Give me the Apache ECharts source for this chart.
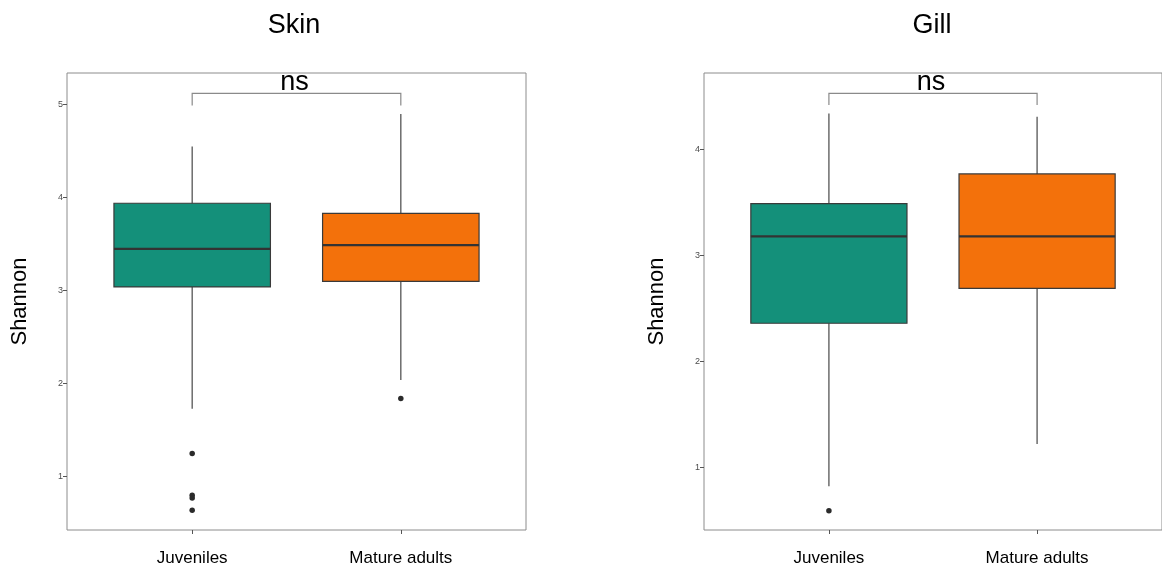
<!DOCTYPE html>
<html>
<head>
<meta charset="utf-8">
<script src="https://cdn.jsdelivr.net/npm/echarts@6/dist/echarts.min.js"></script>
<style>
  html, body { margin: 0; padding: 0; background: #fff; }
  #chart { width: 1162px; height: 568px; }
</style>
</head>
<body>
<div id="chart"></div>
<script>
// Groups on the x axis (positions 1 and 2)
const categories = ['Juveniles', 'Mature adults'];
const panelTitles = ['Skin', 'Gill'];

// Box statistics per group: [lower whisker, Q1, median, Q3, upper whisker]
const skinBoxes = [
  [1.73, 3.04, 3.45, 3.94, 4.55],
  [2.04, 3.10, 3.49, 3.83, 4.90]
];
const gillBoxes = [
  [0.82, 2.36, 3.18, 3.49, 4.34],
  [1.22, 2.69, 3.18, 3.77, 4.31]
];

// Outliers: [group position, Shannon value]
const skinOutliers = [[1, 1.25], [1, 0.80], [1, 0.77], [1, 0.64], [2, 1.84]];
const gillOutliers = [[1, 0.59]];

// Significance brackets: [from group, to group, bar height, leg end], label
const skinBracket = [1, 2, 5.12, 4.99];
const gillBracket = [1, 2, 4.53, 4.42];
const bracketLabel = 'ns';

// Y tick values and axis ranges
const skinTicks = [1, 2, 3, 4, 5];
const gillTicks = [1, 2, 3, 4];
const skinRange = [0.427, 5.34];
const gillRange = [0.408, 4.723];

const boxColors = ['#14907a', '#f3710b'];
const FONT = '"Liberation Sans", Arial, Helvetica, sans-serif';

function boxRender(params, api) {
  const x = api.value(0);
  const low = api.coord([x, api.value(1)]);
  const q1 = api.coord([x, api.value(2)]);
  const med = api.coord([x, api.value(3)]);
  const q3 = api.coord([x, api.value(4)]);
  const high = api.coord([x, api.value(5)]);
  const half = api.size([0.75, 0])[0] / 2;
  const cx = med[0];
  const lineStyle = { stroke: '#555555', lineWidth: 1.3 };
  return {
    type: 'group',
    children: [
      { type: 'line', shape: { x1: cx, y1: q1[1], x2: cx, y2: low[1] }, style: lineStyle },
      { type: 'line', shape: { x1: cx, y1: q3[1], x2: cx, y2: high[1] }, style: lineStyle },
      {
        type: 'rect',
        shape: { x: cx - half, y: q3[1], width: half * 2, height: q1[1] - q3[1] },
        style: { fill: boxColors[params.dataIndex], stroke: '#3a3a3a', lineWidth: 1.2 }
      },
      {
        type: 'line',
        shape: { x1: cx - half, y1: med[1], x2: cx + half, y2: med[1] },
        style: { stroke: '#333333', lineWidth: 2.2 }
      }
    ]
  };
}

function bracketRender(params, api) {
  const a = api.coord([api.value(0), api.value(2)]);
  const b = api.coord([api.value(1), api.value(2)]);
  const a2 = api.coord([api.value(0), api.value(3)]);
  const b2 = api.coord([api.value(1), api.value(3)]);
  return {
    type: 'group',
    children: [
      {
        type: 'polyline',
        shape: { points: [a2, a, b, b2] },
        style: { stroke: '#8a8a8a', lineWidth: 1.2, fill: null }
      },
      {
        type: 'text',
        x: (a[0] + b[0]) / 2 - 2,
        y: a[1] + 3,
        style: {
          text: bracketLabel, font: '27px ' + FONT, fill: '#000',
          align: 'center', verticalAlign: 'bottom'
        }
      }
    ]
  };
}

function boxData(boxes) {
  return boxes.map((b, i) => [i + 1].concat(b));
}

const grids = [
  { left: 67, top: 73, width: 459, height: 457 },
  { left: 704, top: 73, width: 460, height: 457 }
];

function xAxisFor(gi) {
  return {
    type: 'value', gridIndex: gi, min: 0.4, max: 2.6,
    axisLine: { show: false },
    splitLine: { show: false },
    axisTick: { show: true, customValues: [1, 2], length: 4, lineStyle: { color: '#555' } },
    axisLabel: {
      customValues: [1, 2], margin: 20, fontSize: 17, color: '#000', fontFamily: FONT,
      formatter: v => categories[Math.round(v) - 1]
    }
  };
}

function yAxisFor(gi, range, ticks) {
  return {
    type: 'value', gridIndex: gi, min: range[0], max: range[1],
    name: 'Shannon', nameLocation: 'middle', nameGap: 36, nameRotate: 90,
    nameTextStyle: { fontSize: 22, color: '#000', fontFamily: FONT },
    axisLine: { show: false },
    splitLine: { show: false },
    axisTick: { show: true, customValues: ticks, length: 4, lineStyle: { color: '#555' } },
    axisLabel: { customValues: ticks, fontSize: 9, color: '#4d4d4d', margin: 4, fontFamily: FONT }
  };
}

const option = {
  animation: false,
  backgroundColor: '#fff',
  grid: grids.map(g => Object.assign({ show: true, borderColor: '#8c8c8c', borderWidth: 1, backgroundColor: 'transparent' }, g)),
  xAxis: [xAxisFor(0), xAxisFor(1)],
  yAxis: [yAxisFor(0, skinRange, skinTicks), yAxisFor(1, gillRange, gillTicks)],
  graphic: [
    { type: 'text', x: 294, y: 26, style: { text: panelTitles[0], font: '27px ' + FONT, fill: '#000', align: 'center', verticalAlign: 'middle' } },
    { type: 'text', x: 932, y: 26, style: { text: panelTitles[1], font: '27px ' + FONT, fill: '#000', align: 'center', verticalAlign: 'middle' } }
  ],
  series: [
    { type: 'custom', xAxisIndex: 0, yAxisIndex: 0, renderItem: boxRender, data: boxData(skinBoxes), encode: { x: 0, y: [1, 2, 3, 4, 5] }, z: 2 },
    { type: 'custom', xAxisIndex: 1, yAxisIndex: 1, renderItem: boxRender, data: boxData(gillBoxes), encode: { x: 0, y: [1, 2, 3, 4, 5] }, z: 2 },
    { type: 'scatter', xAxisIndex: 0, yAxisIndex: 0, data: skinOutliers, symbolSize: 5.5, itemStyle: { color: '#2b2b2b', opacity: 1 }, z: 3 },
    { type: 'scatter', xAxisIndex: 1, yAxisIndex: 1, data: gillOutliers, symbolSize: 5.5, itemStyle: { color: '#2b2b2b', opacity: 1 }, z: 3 },
    { type: 'custom', xAxisIndex: 0, yAxisIndex: 0, renderItem: bracketRender, data: [skinBracket], encode: { x: [0, 1], y: [2, 3] }, clip: false, z: 4 },
    { type: 'custom', xAxisIndex: 1, yAxisIndex: 1, renderItem: bracketRender, data: [gillBracket], encode: { x: [0, 1], y: [2, 3] }, clip: false, z: 4 }
  ]
};

const chart = echarts.init(document.getElementById('chart'), null, { renderer: 'canvas' });
chart.setOption(option);
</script>
</body>
</html>
